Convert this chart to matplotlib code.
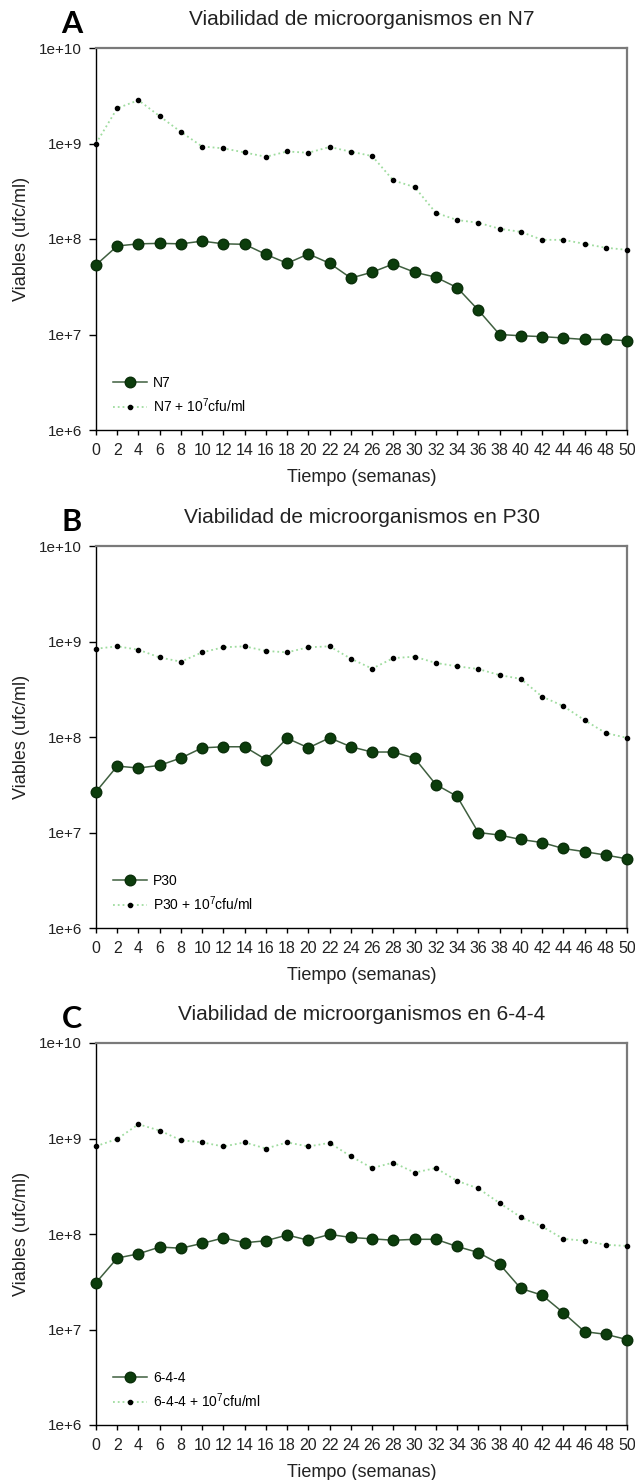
import matplotlib
matplotlib.use("Agg")
import matplotlib.pyplot as plt
from matplotlib.ticker import FixedLocator, NullLocator

# datos (ufc/ml)
semanas = [0, 2, 4, 6, 8, 10, 12, 14, 16, 18, 20, 22, 24, 26,
           28, 30, 32, 34, 36, 38, 40, 42, 44, 46, 48, 50]

n7 = [5.35e7, 8.45e7, 8.9e7, 9.0e7, 8.9e7, 9.5e7, 8.9e7, 8.8e7, 6.9e7, 5.57e7,
      6.97e7, 5.57e7, 3.9e7, 4.49e7, 5.48e7, 4.49e7, 3.98e7, 3.1e7, 1.8e7, 1.0e7,
      9.7e6, 9.5e6, 9.2e6, 8.87e6, 8.9e6, 8.6e6]
n7_inoc = [1.0e9, 2.34e9, 2.84e9, 1.93e9, 1.32e9, 9.3e8, 8.9e8, 8.05e8, 7.26e8, 8.25e8,
           8.0e8, 9.2e8, 8.2e8, 7.4e8, 4.1e8, 3.5e8, 1.88e8, 1.58e8, 1.48e8, 1.28e8,
           1.19e8, 9.8e7, 9.8e7, 8.9e7, 8.1e7, 7.7e7]

p30 = [2.67e7, 4.96e7, 4.73e7, 5.05e7, 6.03e7, 7.7e7, 7.9e7, 7.9e7, 5.8e7, 9.7e7,
       7.7e7, 9.8e7, 7.9e7, 6.96e7, 6.96e7, 6.0e7, 3.18e7, 2.39e7, 1.0e7, 9.4e6,
       8.45e6, 7.85e6, 6.8e6, 6.3e6, 5.8e6, 5.3e6]
p30_inoc = [8.4e8, 8.9e8, 8.2e8, 6.8e8, 6.15e8, 7.7e8, 8.7e8, 8.9e8, 7.96e8, 7.7e8,
            8.7e8, 8.9e8, 6.6e8, 5.2e8, 6.7e8, 6.94e8, 5.96e8, 5.5e8, 5.15e8, 4.45e8,
            4.06e8, 2.65e8, 2.11e8, 1.5e8, 1.1e8, 9.8e7]

c644 = [3.09e7, 5.6e7, 6.2e7, 7.3e7, 7.1e7, 7.98e7, 9.1e7, 8.1e7, 8.5e7, 9.76e7,
        8.6e7, 9.9e7, 9.2e7, 8.9e7, 8.6e7, 8.8e7, 8.8e7, 7.4e7, 6.4e7, 4.84e7,
        2.69e7, 2.29e7, 1.5e7, 9.5e6, 8.9e6, 7.85e6]
c644_inoc = [8.3e8, 9.9e8, 1.41e9, 1.21e9, 9.6e8, 9.1e8, 8.25e8, 9.1e8, 7.85e8, 9.1e8,
             8.25e8, 9.0e8, 6.5e8, 4.9e8, 5.6e8, 4.4e8, 4.9e8, 3.6e8, 3.0e8, 2.11e8,
             1.5e8, 1.2e8, 8.9e7, 8.5e7, 7.7e7, 7.5e7]

paneles = [
    ("A", "N7", n7, n7_inoc),
    ("B", "P30", p30, p30_inoc),
    ("C", "6-4-4", c644, c644_inoc),
]

y_ticks = [1e6, 1e7, 1e8, 1e9, 1e10]
y_labels = ["1e+6", "1e+7", "1e+8", "1e+9", "1e+10"]

plt.rcParams['font.family'] = ['Liberation Sans', 'DejaVu Sans']
plt.rcParams['mathtext.fontset'] = 'custom'
plt.rcParams['mathtext.rm'] = 'Liberation Sans'
plt.rcParams['mathtext.it'] = 'Liberation Sans:italic'
plt.rcParams['mathtext.bf'] = 'Liberation Sans:bold'

W, H = 635, 1480
fig = plt.figure(figsize=(W / 100, H / 100), dpi=100)

# posicion de cada panel en pixeles (borde superior)
tops = [48, 546, 1043]
x_izq, x_der = 96, 627
alto = 382

for (letra, nombre, serie, serie_inoc), top in zip(paneles, tops):
    ax = fig.add_axes([x_izq / W, 1 - (top + alto) / H, (x_der - x_izq) / W, alto / H])

    ax.plot(semanas, serie_inoc, linestyle=':', color='#9fdc9f', linewidth=1.3,
            marker='o', markersize=3, markerfacecolor='black', markeredgecolor='black',
            label=nombre + " + 10$^7$cfu/ml", clip_on=False, zorder=3)
    ax.plot(semanas, serie, linestyle='-', color='#3f5f3f', linewidth=1.1,
            marker='o', markersize=7.6, markerfacecolor='#0c3d0c', markeredgecolor='#0a2e0a',
            label=nombre, clip_on=False, zorder=4)

    ax.set_yscale('log')
    ax.set_ylim(1e6, 1e10)
    ax.set_xlim(0, 50)
    ax.yaxis.set_major_locator(FixedLocator(y_ticks))
    ax.set_yticklabels(y_labels)
    ax.yaxis.set_minor_locator(NullLocator())
    ax.set_xticks(semanas)
    ax.set_xticklabels([str(s) for s in semanas])

    ax.tick_params(axis='y', direction='out', length=5, width=1, pad=5, labelsize=11,
                   labelcolor='#222222')
    ax.tick_params(axis='x', direction='out', length=3.5, width=1, pad=6, labelsize=11.5,
                   labelcolor='#222222')

    for lado in ['left', 'bottom']:
        ax.spines[lado].set_color('black')
        ax.spines[lado].set_linewidth(1)
    for lado in ['top', 'right']:
        ax.spines[lado].set_color('#7a7a7a')
        ax.spines[lado].set_linewidth(1.6)

    ax.set_ylabel("Viables (ufc/ml)", fontsize=13, labelpad=7, color='#222222')
    ax.set_xlabel("Tiempo (semanas)", fontsize=13, labelpad=8, color='#222222')

    handles, labels = ax.get_legend_handles_labels()
    ax.legend(handles[::-1], labels[::-1], loc='upper left',
              bbox_to_anchor=(0.032, 0.142), frameon=False, fontsize=10,
              handlelength=2.45, handletextpad=0.45, labelspacing=0.45,
              borderpad=0, borderaxespad=0)

    fig.text((x_izq + x_der) / 2 / W, 1 - (top - 23) / H,
             "Viabilidad de microorganismos en " + nombre,
             ha='center', va='baseline', fontsize=15, color='#222222')
    fig.text(72 / W, 1 - (top - 24) / H, letra, ha='center', va='center',
             fontsize=22, fontweight='bold', family=['Lato', 'DejaVu Sans'])

fig.savefig("out.png", dpi=100)
